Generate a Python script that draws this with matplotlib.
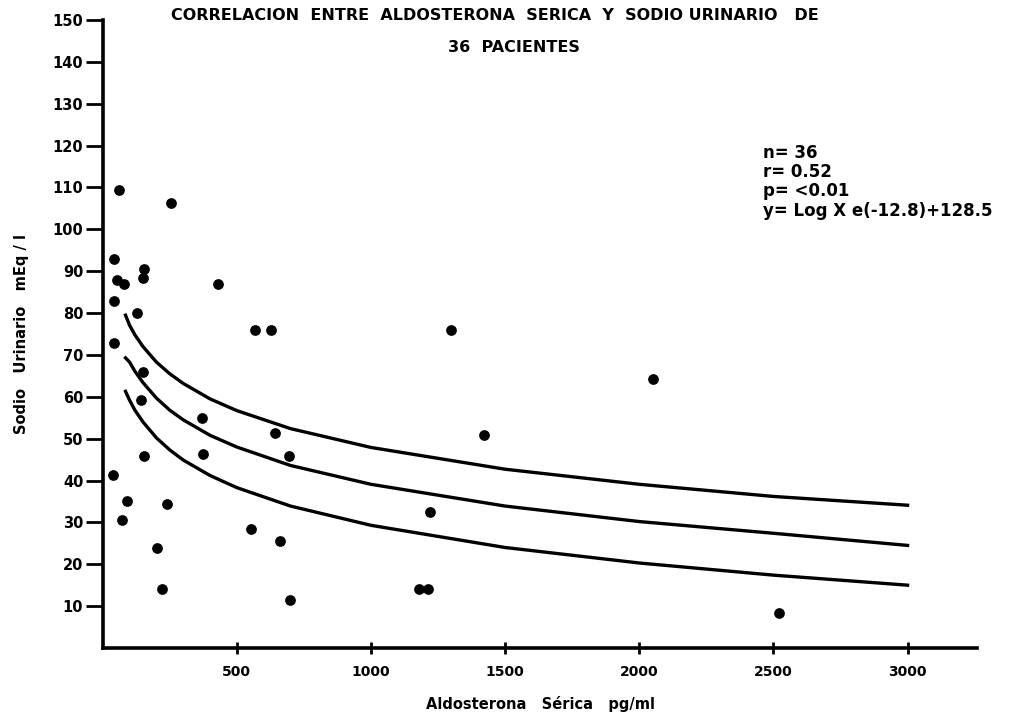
import matplotlib
matplotlib.use("Agg")
import matplotlib.pyplot as plt

# --- data ---
aldo = [60, 254, 41, 52, 78, 153, 149, 429, 41, 127, 567, 627, 41, 149, 142, 370,
        642, 694, 373, 153, 37, 90, 239, 71, 552, 660, 201, 220, 698, 1422, 1220,
        1179, 1213, 1299, 2052, 2522]
sodio = [109.5, 106.4, 93, 88, 87, 90.5, 88.5, 87, 82.8, 80, 76, 76, 72.8, 66, 59.2, 55,
         51.3, 45.8, 46.3, 45.8, 41.3, 35, 34.4, 30.5, 28.4, 25.5, 23.9, 14.1, 11.5, 50.8, 32.5,
         14.1, 14.1, 75.9, 64.2, 8.4]

curve_x = [85, 100, 120, 150, 200, 250, 300, 400, 500, 700, 1000, 1500, 2000, 2500, 3000]
curve_upper = [79.5, 77.1, 74.8, 72.0, 68.3, 65.5, 63.2, 59.5, 56.7, 52.4, 47.9, 42.7, 39.1, 36.2, 34.1]
curve_mid = [69.3, 68.3, 66.1, 63.4, 59.7, 56.8, 54.5, 50.8, 48.0, 43.6, 39.1, 33.9, 30.2, 27.4, 24.5]
curve_lower = [61.3, 59.2, 56.8, 54.0, 50.2, 47.3, 44.9, 41.2, 38.3, 33.9, 29.3, 24.0, 20.3, 17.4, 15.0]

xticks = [500, 1000, 1500, 2000, 2500, 3000]
yticks = list(range(10, 160, 10))

plt.rcParams['font.family'] = 'DejaVu Sans'
plt.rcParams['font.weight'] = 'bold'

fig = plt.figure(figsize=(10.17, 7.16), dpi=100)
ax = fig.add_axes([0.101, 0.095, 0.86, 0.877])

ax.scatter(aldo, sodio, s=45, color='black', zorder=3)
for cy in (curve_upper, curve_mid, curve_lower):
    ax.plot(curve_x, cy, color='black', lw=2.4)

ax.set_xlim(0, 3260)
ax.set_ylim(0, 150)
ax.spines['top'].set_visible(False)
ax.spines['right'].set_visible(False)
for s in ('left', 'bottom'):
    ax.spines[s].set_linewidth(2.6)

ax.set_xticks(xticks)
ax.set_xticklabels([str(v) for v in xticks], fontsize=10, fontweight='bold')
ax.set_yticks(yticks)
ax.set_yticklabels([str(v) for v in yticks], fontsize=10.5, fontweight='bold')
ax.tick_params(axis='x', direction='inout', length=9, width=2, pad=8)
ax.tick_params(axis='y', direction='out', length=12, width=2, pad=2)

ax.set_xlabel("Aldosterona   Sérica   pg/ml", fontsize=10.5, fontweight='bold', labelpad=12)
ax.set_ylabel("Sodio   Urinario   mEq / l", fontsize=10.5, fontweight='bold', labelpad=17)

fig.text(0.487, 0.979, "CORRELACION  ENTRE  ALDOSTERONA  SERICA  Y  SODIO URINARIO   DE",
         ha='center', va='center', fontsize=11.5, fontweight='bold')
fig.text(0.505, 0.933, "36  PACIENTES", ha='center', va='center', fontsize=11.5, fontweight='bold')

stats = ["n= 36", "r= 0.52", "p= <0.01", "y= Log X e(-12.8)+128.5"]
for i, line in enumerate(stats):
    fig.text(0.75, 0.787 - i * 0.027, line, ha='left', va='center', fontsize=12,
             fontweight='bold')

fig.savefig("out.png", dpi=100, facecolor='white')
